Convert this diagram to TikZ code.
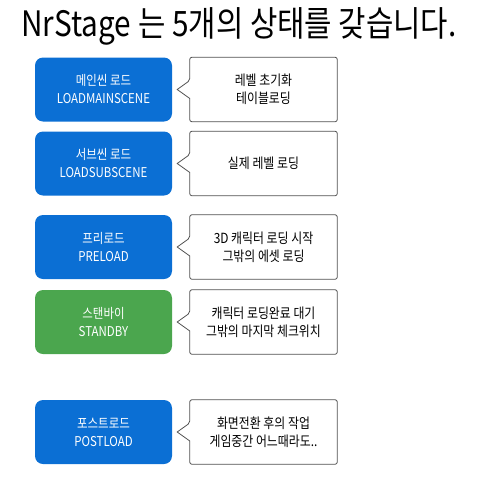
\documentclass[tikz,border=0pt]{standalone}
\usepackage{fontspec}
\setmainfont{Noto Sans CJK KR}[FakeStretch=0.85]
\usetikzlibrary{calc}
\definecolor{boxblue}{HTML}{0B6FD4}
\definecolor{boxgreen}{HTML}{4BA64E}
\definecolor{edgegray}{HTML}{505050}
\begin{document}
\begin{tikzpicture}[x=1pt,y=-1pt,
  state/.style={rounded corners=8pt, fill=boxblue, text=white, minimum width=137pt,
    minimum height=64pt, align=center, inner sep=0pt, font=\fontsize{13.5}{18}\selectfont},
  note/.style={minimum width=147pt, minimum height=64pt, align=center, inner sep=0pt,
    font=\fontsize{14}{18}\selectfont},
  bubble/.style={draw=edgegray, line width=0.8pt}]
\useasboundingbox (0,0) rectangle (480,480);
\node (title) at (239,26) {\fontsize{35}{40}\selectfont NrStage 는 5개의 상태를 갖습니다.};

\node[state] (b1) at (103.5,89.5) {메인씬 로드\\LOADMAINSCENE};
\node[state] (b2) at (103.5,163.5) {서브씬 로드\\LOADSUBSCENE};
\node[state] (b3) at (103.5,247) {프리로드\\PRELOAD};
\node[state, fill=boxgreen] (b4) at (103.5,322) {스탠바이\\STANDBY};
\node[state] (b5) at (103.5,432) {포스트로드\\POSTLOAD};

\node[note] (c1) at (263.5,89.5) {레벨 초기화\\테이블로딩};
\node[note] (c2) at (263.5,163.5) {실제 레벨 로딩};
\node[note] (c3) at (263.5,247) {3D 캐릭터 로딩 시작\\그밖의 에셋 로딩};
\node[note] (c4) at (263.5,322) {캐릭터 로딩완료 대기\\그밖의 마지막 체크위치};
\node[note] (c5) at (263.5,432) {화면전환 후의 작업\\게임중간 어느때라도..};

\foreach \c/\b in {c1/b1,c2/b2,c3/b3,c4/b4,c5/b5}{
  \draw[bubble] ($(\c.west)+(0,9)$) [rounded corners=2pt] -- (\c.south west) -- (\c.south east)
    -- (\c.north east) -- (\c.north west) -- ($(\c.west)+(0,-9)$) [sharp corners]
    -- ($(\b.east)+(5,0)$) -- cycle;
}
\end{tikzpicture}
\end{document}
